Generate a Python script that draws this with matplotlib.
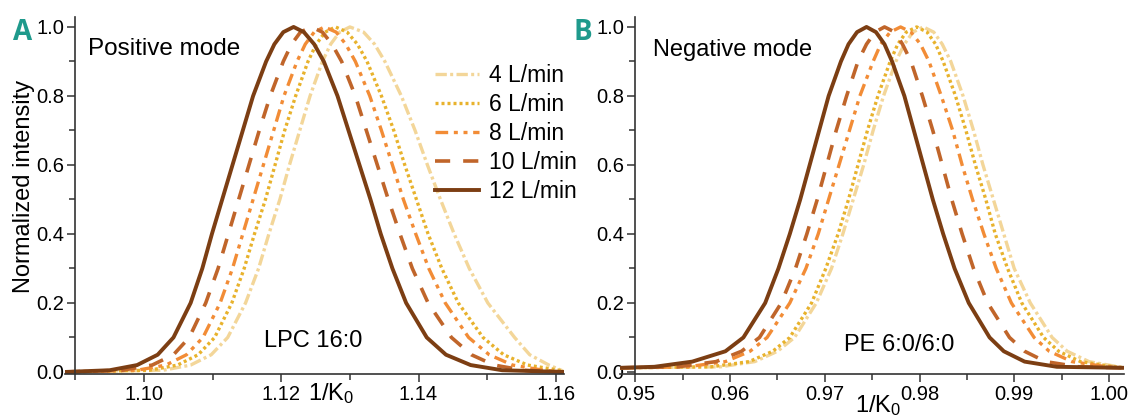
import matplotlib
matplotlib.use('Agg')
import matplotlib.pyplot as plt
from matplotlib.ticker import MultipleLocator, FormatStrFormatter

plt.rcParams['font.family'] = ['Liberation Sans', 'DejaVu Sans']
plt.rcParams['mathtext.fontset'] = 'custom'
plt.rcParams['mathtext.rm'] = 'Liberation Sans'
plt.rcParams['mathtext.it'] = 'Liberation Sans:italic'

# intensity levels at which each curve position was read (rise, peak, fall)
lv_pos = [0, 0.005, 0.02, 0.05, 0.1, 0.2, 0.3, 0.4, 0.5, 0.6, 0.7, 0.8, 0.9, 0.95, 0.985, 1.0,
          0.985, 0.95, 0.9, 0.8, 0.7, 0.6, 0.5, 0.4, 0.3, 0.2, 0.1, 0.05, 0.02, 0.005, 0]
lv_neg = [0.012, 0.015, 0.03, 0.06, 0.1, 0.2, 0.3, 0.4, 0.5, 0.6, 0.7, 0.8, 0.9, 0.95, 0.985, 1.0,
          0.985, 0.95, 0.9, 0.8, 0.7, 0.6, 0.5, 0.4, 0.3, 0.2, 0.1, 0.06, 0.03, 0.015, 0.012]

# 1/K0 positions, positive mode (LPC 16:0)
pos_4 = [1.0885, 1.1028, 1.1068, 1.1098, 1.1122, 1.1148, 1.1167, 1.1182, 1.1198, 1.1212, 1.1227, 1.1242, 1.1260, 1.1272, 1.1285, 1.1300,
         1.1320, 1.1336, 1.1351, 1.1375, 1.1395, 1.1413, 1.1432, 1.1452, 1.1474, 1.1501, 1.1540, 1.1562, 1.1590, 1.1608, 1.1612]
pos_6 = [1.0885, 1.1008, 1.1049, 1.1079, 1.1103, 1.1128, 1.1146, 1.1161, 1.1177, 1.1191, 1.1205, 1.1221, 1.1239, 1.1251, 1.1264, 1.1279,
         1.1296, 1.1311, 1.1325, 1.1346, 1.1364, 1.1380, 1.1397, 1.1414, 1.1434, 1.1458, 1.1494, 1.1524, 1.1559, 1.1605, 1.1612]
pos_8 = [1.0885, 1.0990, 1.1032, 1.1062, 1.1086, 1.1111, 1.1129, 1.1144, 1.1159, 1.1174, 1.1189, 1.1204, 1.1223, 1.1235, 1.1248, 1.1263,
         1.1280, 1.1294, 1.1308, 1.1329, 1.1346, 1.1362, 1.1378, 1.1396, 1.1415, 1.1439, 1.1473, 1.1503, 1.1537, 1.1582, 1.1612]
pos_10 = [1.0885, 1.0968, 1.1012, 1.1043, 1.1066, 1.1090, 1.1108, 1.1123, 1.1138, 1.1153, 1.1168, 1.1184, 1.1203, 1.1215, 1.1228, 1.1244,
          1.1260, 1.1274, 1.1288, 1.1308, 1.1324, 1.1340, 1.1356, 1.1373, 1.1391, 1.1414, 1.1448, 1.1477, 1.1510, 1.1553, 1.1612]
pos_12 = [1.0885, 1.0950, 1.0990, 1.1020, 1.1043, 1.1068, 1.1085, 1.1099, 1.1114, 1.1129, 1.1144, 1.1159, 1.1178, 1.1190, 1.1203, 1.1218,
          1.1233, 1.1248, 1.1262, 1.1282, 1.1298, 1.1314, 1.1330, 1.1345, 1.1362, 1.1382, 1.1412, 1.1440, 1.1476, 1.1522, 1.1612]

# 1/K0 positions, negative mode (PE 6:0/6:0)
neg_4 = [0.9484, 0.9590, 0.9626, 0.9650, 0.9668, 0.9691, 0.9707, 0.9719, 0.9730, 0.9741, 0.9751, 0.9762, 0.9775, 0.9784, 0.9793, 0.9804,
         0.9815, 0.9824, 0.9833, 0.9846, 0.9857, 0.9867, 0.9878, 0.9889, 0.9900, 0.9917, 0.9940, 0.9956, 0.9979, 1.0010, 1.0016]
neg_6 = [0.9484, 0.9580, 0.9620, 0.9645, 0.9663, 0.9686, 0.9701, 0.9714, 0.9725, 0.9735, 0.9745, 0.9756, 0.9769, 0.9777, 0.9786, 0.9797,
         0.9808, 0.9817, 0.9825, 0.9838, 0.9849, 0.9859, 0.9870, 0.9880, 0.9893, 0.9908, 0.9931, 0.9947, 0.9970, 1.0005, 1.0016]
neg_8 = [0.9484, 0.9555, 0.9595, 0.9621, 0.9639, 0.9663, 0.9680, 0.9693, 0.9704, 0.9715, 0.9726, 0.9737, 0.9751, 0.9759, 0.9769, 0.9780,
         0.9791, 0.9801, 0.9810, 0.9823, 0.9835, 0.9845, 0.9856, 0.9868, 0.9881, 0.9897, 0.9921, 0.9937, 0.9961, 0.9998, 1.0016]
neg_10 = [0.9484, 0.9545, 0.9585, 0.9612, 0.9631, 0.9654, 0.9669, 0.9681, 0.9692, 0.9702, 0.9712, 0.9723, 0.9735, 0.9744, 0.9753, 0.9763,
          0.9774, 0.9782, 0.9791, 0.9803, 0.9814, 0.9824, 0.9834, 0.9845, 0.9857, 0.9872, 0.9895, 0.9911, 0.9933, 0.9968, 1.0016]
neg_12 = [0.9484, 0.9520, 0.9560, 0.9595, 0.9614, 0.9637, 0.9651, 0.9663, 0.9674, 0.9684, 0.9694, 0.9704, 0.9717, 0.9725, 0.9734, 0.9744,
          0.9754, 0.9763, 0.9771, 0.9784, 0.9794, 0.9804, 0.9814, 0.9825, 0.9837, 0.9852, 0.9874, 0.9889, 0.9911, 0.9945, 1.0016]

labels = ['4 L/min', '6 L/min', '8 L/min', '10 L/min', '12 L/min']
colors = ['#f3d699', '#e8b22c', '#f28c36', '#c0652a', '#7c3e13']
widths = [2.4, 2.4, 2.4, 2.6, 2.8]
dash_styles = [(3.4, 1.0, 0.9, 1.0), (0.9, 0.9), (3.8, 1.7, 1.2, 1.7, 1.2, 1.7), (4.2, 3.6), None]

teal = '#1f9a8c'

fig = plt.figure(figsize=(11.33, 4.16), dpi=100)
axA = fig.add_axes([0.0574, 0.1017, 0.4404, 0.8584])
axB = fig.add_axes([0.5475, 0.1017, 0.4446, 0.8584])


def draw(ax, xs_list, lv):
    for xs, lab, c, w, d in zip(xs_list, labels, colors, widths, dash_styles):
        line, = ax.plot(xs, lv, color=c, lw=w, label=lab, solid_joinstyle='round')
        if d is not None:
            line.set_dashes(d)


draw(axA, [pos_4, pos_6, pos_8, pos_10, pos_12], lv_pos)
draw(axB, [neg_4, neg_6, neg_8, neg_10, neg_12], lv_neg)

for ax, xl, x0, step in [(axA, (1.0885, 1.1612), 1.09, 0.02), (axB, (0.9484, 1.0016), 0.95, 0.01)]:
    ax.set_xlim(*xl)
    ax.set_ylim(-0.005, 1.03)
    ax.spines['top'].set_visible(False)
    ax.spines['right'].set_visible(False)
    ax.spines['left'].set_position(('data', x0))
    for s in ['left', 'bottom']:
        ax.spines[s].set_linewidth(1.2)
        ax.spines[s].set_color('#333333')
    ax.xaxis.set_major_locator(MultipleLocator(step))
    ax.xaxis.set_minor_locator(MultipleLocator(step / 2))
    ax.xaxis.set_major_formatter(FormatStrFormatter('%.2f'))
    ax.yaxis.set_major_locator(MultipleLocator(0.2))
    ax.yaxis.set_minor_locator(MultipleLocator(0.1))
    ax.yaxis.set_major_formatter(FormatStrFormatter('%.1f'))
    ax.tick_params(which='major', length=6, width=1.1, color='#333333', labelsize=14.5, pad=2)
    ax.tick_params(which='minor', length=4, width=1.1, color='#333333')

axA.set_xticks([1.10, 1.12, 1.14, 1.16])
axA.xaxis.set_major_formatter(FormatStrFormatter('%.2f'))

axA.set_xlabel(r'1/K$_0$', fontsize=17)
axA.xaxis.set_label_coords(0.533, -0.02)
axB.set_xlabel(r'1/K$_0$', fontsize=17)
axB.xaxis.set_label_coords(0.512, -0.055)
axA.set_ylabel('Normalized intensity', fontsize=17)
axA.yaxis.set_label_coords(-0.06, 0.523)

axA.text(0.046, 0.892, 'Positive mode', transform=axA.transAxes, fontsize=17.5, va='baseline')
axA.text(0.497, 0.075, 'LPC 16:0', transform=axA.transAxes, fontsize=17, ha='center', va='baseline')
axB.text(0.065, 0.89, 'Negative mode', transform=axB.transAxes, fontsize=17, va='baseline')
axB.text(0.554, 0.064, 'PE 6:0/6:0', transform=axB.transAxes, fontsize=17, ha='center', va='baseline')

fig.text(13 / 1133, 1 - 40 / 416, 'A', color=teal, fontsize=20, fontweight='bold',
         family=['Open Sans', 'DejaVu Sans'], va='baseline')
fig.text(573 / 1133, 1 - 40 / 416, 'B', color=teal, fontsize=20, fontweight='bold',
         family=['Open Sans', 'DejaVu Sans'], va='baseline')

axA.legend(loc='upper left', bbox_to_anchor=(435 / 1133, 1 - 64 / 416), bbox_transform=fig.transFigure,
           frameon=False, fontsize=16.5, borderpad=0, borderaxespad=0, handlelength=1.9,
           handletextpad=0.45, labelspacing=0.26)

fig.savefig('out.png', dpi=100)
